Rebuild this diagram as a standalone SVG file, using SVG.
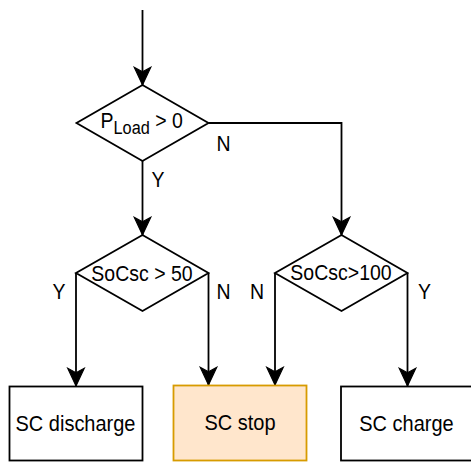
<svg xmlns="http://www.w3.org/2000/svg" width="471" height="462" viewBox="0 0 471 462">
<defs>
<marker id="arr" markerUnits="userSpaceOnUse" markerWidth="20" markerHeight="20" viewBox="-17 -9 18 18" refX="0" refY="0" orient="auto">
<path d="M0,0 L-16,-7.5 L-12,0 L-16,7.5 Z" fill="#000" stroke="#000" stroke-width="1"/>
</marker>
</defs>
<style>
.shape{fill:#fff;stroke:#000;stroke-width:1.8}
.stop{fill:#ffe6cc;stroke:#d79b00;stroke-width:1.8}
.edge{fill:none;stroke:#000;stroke-width:1.8;marker-end:url(#arr)}
text{font-family:"Liberation Sans",Arial,sans-serif;font-size:19.5px;fill:#000}
.c{text-anchor:middle}
.b{font-size:20px}
</style>
<rect width="471" height="462" fill="#fff"/>
<g id="connectors">
<path class="edge" d="M142.5,10 L142.5,85"/>
<path class="edge" d="M142.5,161 L142.5,235"/>
<path class="edge" d="M208.5,123 L341.5,123 L341.5,235"/>
<path class="edge" d="M76,273 L76,386"/>
<path class="edge" d="M208.5,273 L208.5,385"/>
<path class="edge" d="M275,273 L275,385"/>
<path class="edge" d="M407.5,273 L407.5,386"/>
</g>
<g id="d1">
<polygon class="shape" points="142.5,85 208.5,123 142.5,161 76.5,123"/>
<text transform="translate(100.5,127.5) scale(1,1.12)">P<tspan font-size="16.3" dy="5.5">Load</tspan><tspan dy="-5.5"> &gt; 0</tspan></text>
</g>
<g id="d2">
<polygon class="shape" points="142.5,235 208.5,273 142.5,311 76,273"/>
<text class="c" transform="translate(142,280.5) scale(1,1.12)">SoCsc &gt; 50</text>
</g>
<g id="d3">
<polygon class="shape" points="341.5,235 407.5,273 341.5,311 275,273"/>
<text class="c" transform="translate(341,280) scale(1,1.12)">SoCsc&gt;100</text>
</g>
<g id="labels">
<text transform="translate(216.5,150.5) scale(1,1.12)">N</text>
<text transform="translate(151.5,187) scale(1,1.12)">Y</text>
<text transform="translate(52.5,298.5) scale(1,1.12)">Y</text>
<text transform="translate(216.5,298.5) scale(1,1.12)">N</text>
<text transform="translate(250,298.5) scale(1,1.12)">N</text>
<text transform="translate(418,298.5) scale(1,1.12)">Y</text>
</g>
<g id="b1">
<rect class="shape" x="9.5" y="386.5" width="133" height="74"/>
<text class="c b" transform="translate(75.5,431) scale(1,1.12)">SC discharge</text>
</g>
<g id="b2">
<rect class="stop" x="173.5" y="385.5" width="133" height="75"/>
<text class="c b" transform="translate(240,430) scale(1,1.12)">SC stop</text>
</g>
<g id="b3">
<rect class="shape" x="341" y="386.5" width="133" height="74"/>
<text class="c b" transform="translate(406.5,431) scale(1,1.12)">SC charge</text>
</g>
</svg>
